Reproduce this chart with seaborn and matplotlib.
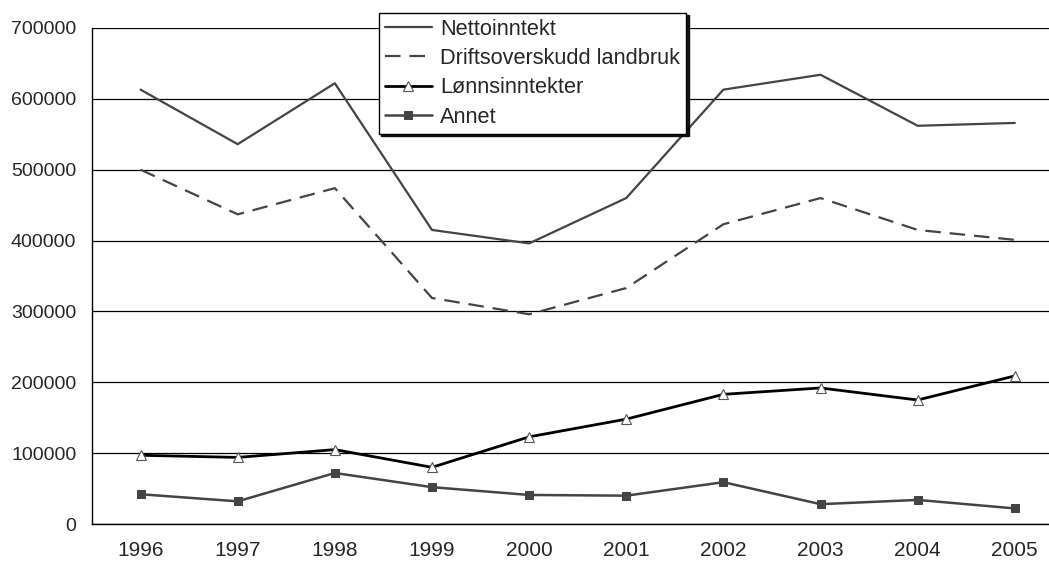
import matplotlib
import matplotlib.pyplot as plt
import numpy as np
import pandas as pd
import seaborn as sns

matplotlib.use('Agg')

years = ['1996', '1997', '1998', '1999', '2000', '2001', '2002', '2003', '2004', '2005']
nettoinntekt = [613000, 536000, 622000, 415000, 396000, 460000, 613000, 634000, 562000, 566000]
driftsoverskudd = [500000, 437000, 474000, 319000, 296000, 333000, 423000, 460000, 415000, 401000]
lonnsinntekter = [97000, 94000, 105000, 80000, 123000, 148000, 183000, 192000, 175000, 209000]
annet = [42000, 32000, 72000, 52000, 41000, 40000, 59000, 28000, 34000, 22000]
yticks = [0, 100000, 200000, 300000, 400000, 500000, 600000, 700000]

sns.set_style('white')
plt.rcParams['font.family'] = ['Liberation Sans', 'DejaVu Sans']

df = pd.DataFrame({
    'pos': np.arange(len(years)),
    'Nettoinntekt': nettoinntekt,
    'Driftsoverskudd landbruk': driftsoverskudd,
    'Lønnsinntekter': lonnsinntekter,
    'Annet': annet,
})

fig = plt.figure(figsize=(10.49, 5.62), dpi=100)
ax = fig.add_axes([0.0877, 0.0676, 0.926, 0.8826])

# gridlines
for y in yticks:
    ax.axhline(y, color='black', lw=0.9, zorder=1)

sns.lineplot(data=df, x='pos', y='Nettoinntekt', ax=ax, color='#444444', lw=1.6,
             label='Nettoinntekt', zorder=3)
sns.lineplot(data=df, x='pos', y='Driftsoverskudd landbruk', ax=ax, color='#444444',
             lw=1.6, dashes=(7, 4), label='Driftsoverskudd landbruk', zorder=3)
sns.lineplot(data=df, x='pos', y='Lønnsinntekter', ax=ax, color='black', lw=2.0,
             marker='^', markersize=6.5, markerfacecolor='white', markeredgecolor='#555555',
             markeredgewidth=0.8, label='Lønnsinntekter', zorder=4)
sns.lineplot(data=df, x='pos', y='Annet', ax=ax, color='#444444', lw=1.8,
             marker='s', markersize=6, markerfacecolor='#444444', markeredgecolor='#444444',
             label='Annet', zorder=4)

ax.set_xlim(-0.5, len(years) - 0.5)
ax.set_ylim(0, 700000)
ax.set_yticks(yticks)
ax.set_yticklabels([str(v) for v in yticks], fontsize=14)
ax.set_xticks(np.arange(len(years) + 1) - 0.5)
ax.set_xticklabels([])
ax.set_xticks(np.arange(len(years)), minor=True)
ax.set_xticklabels(years, minor=True, fontsize=15)
ax.tick_params(axis='x', which='major', direction='out', length=4.3, color='#333333', width=1)
ax.tick_params(axis='x', which='minor', length=0, pad=12)
ax.tick_params(axis='y', direction='out', length=4.3, color='#333333', width=1, pad=7)
ax.set_xlabel('')
ax.set_ylabel('')

for side in ['top', 'right']:
    ax.spines[side].set_visible(False)
for side in ['left', 'bottom']:
    ax.spines[side].set_color('black')
    ax.spines[side].set_linewidth(1)

leg = ax.legend(loc='upper left', bbox_to_anchor=(0.295, 1.031), fontsize=15.7,
                frameon=True, fancybox=False, edgecolor='black', framealpha=1,
                handlelength=2.15, labelspacing=0.38, borderpad=0.28, handletextpad=0.38,
                borderaxespad=0, shadow={'color': 'black', 'alpha': 0.9, 'ox': 2, 'oy': -2})
leg.get_frame().set_linewidth(1)
leg.set_zorder(10)

fig.savefig('out.png', dpi=100)
